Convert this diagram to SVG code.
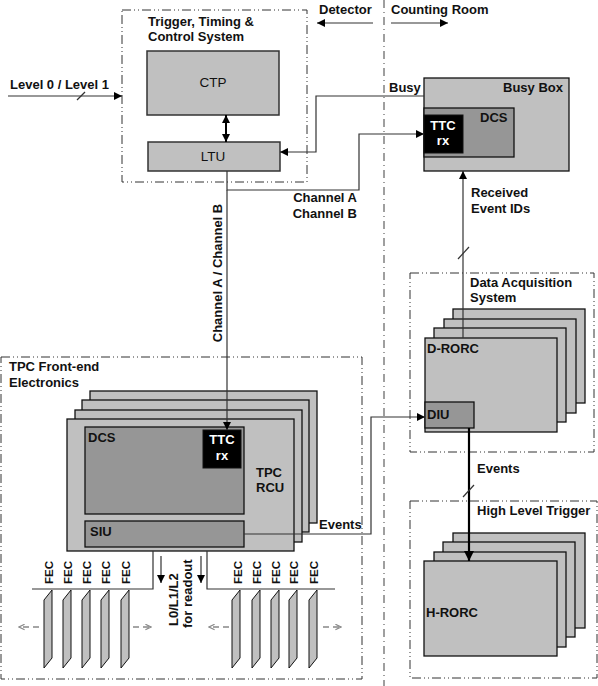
<svg xmlns="http://www.w3.org/2000/svg" width="598" height="686" viewBox="0 0 598 686">
<defs>
<style>
text{font-family:"Liberation Sans",Arial,sans-serif;fill:#111}
.b{font-weight:bold;font-size:13px}
.n{font-size:13.5px}
.w{fill:#fff;font-weight:bold;font-size:13px}
.grp{fill:none;stroke:#333;stroke-width:1;stroke-dasharray:9 3 1 3 1 3}
.card{fill:#c0c0c0;stroke:#111;stroke-width:1.3}
.dark{fill:#969696;stroke:#111;stroke-width:1.3}
.blk{fill:#000;stroke:#111;stroke-width:1}
.ln{fill:none;stroke:#333;stroke-width:1.2}
.dsh{fill:none;stroke:#888;stroke-width:1.5;stroke-dasharray:6 4}
.fec{fill:#c0c0c0;stroke:#111;stroke-width:1}
</style>
<marker id="ah" viewBox="0 0 10 10" refX="10" refY="5" markerWidth="10" markerHeight="8" markerUnits="userSpaceOnUse" orient="auto-start-reverse"><path d="M0,0 L10,5 L0,10 z" fill="#000"/></marker>
<marker id="ahb" viewBox="0 0 10 10" refX="10" refY="5" markerWidth="13" markerHeight="10" markerUnits="userSpaceOnUse" orient="auto"><path d="M0,0 L10,5 L0,10 z" fill="#000"/></marker>
<marker id="oh" viewBox="0 0 10 10" refX="9" refY="5" markerWidth="7" markerHeight="7" markerUnits="userSpaceOnUse" orient="auto"><path d="M1,1 L9,5 L1,9" fill="none" stroke="#888" stroke-width="1.6"/></marker>
</defs>

<!-- divider -->
<line x1="384" y1="0" x2="384" y2="686" stroke="#808080" stroke-width="1.5" stroke-dasharray="8 4 1 4"/>
<text class="b" x="319" y="14">Detector</text>
<text class="b" x="391" y="14">Counting Room</text>

<!-- group boxes -->
<g id="ttc-system">
<rect class="grp" x="122" y="10" width="185" height="172"/>
<text class="b" x="148" y="26">Trigger, Timing &amp;</text>
<text class="b" x="148" y="41">Control System</text>
</g>
<g id="tpc-fee">
<rect class="grp" x="1" y="357" width="361" height="322"/>
<text class="b" x="9" y="371">TPC Front-end</text>
<text class="b" x="9" y="387">Electronics</text>
</g>
<g id="daq">
<rect class="grp" x="410" y="273" width="184" height="179"/>
<text class="b" x="470" y="287">Data Acquisition</text>
<text class="b" x="470" y="302">System</text>
</g>
<g id="hlt">
<rect class="grp" x="410" y="501" width="187" height="177"/>
<text class="b" x="477" y="515">High Level Trigger</text>
</g>

<!-- nodes -->
<g id="ctp">
<rect x="147" y="51" width="132" height="64" fill="#c0c0c0" stroke="#333" stroke-width="1.5"/>
<text class="n" x="213" y="87" text-anchor="middle">CTP</text>
</g>
<g id="ltu">
<rect x="148" y="142" width="132" height="29" fill="#c0c0c0" stroke="#333" stroke-width="1.5"/>
<text class="n" x="213" y="161" text-anchor="middle">LTU</text>
</g>
<g id="busy-box">
<rect class="card" x="424" y="78" width="145" height="93"/>
<text class="b" x="563" y="92" text-anchor="end">Busy Box</text>
<rect class="dark" x="424" y="108" width="90" height="49"/>
<text class="b" x="480" y="122">DCS</text>
<rect class="blk" x="424" y="115" width="39" height="38"/>
<text class="w" x="443" y="130" text-anchor="middle">TTC</text>
<text class="w" x="443" y="145" text-anchor="middle">rx</text>
</g>
<g id="d-rorc">
<rect class="card" x="453" y="309" width="132" height="94"/>
<rect class="card" x="444" y="319" width="132" height="94"/>
<rect class="card" x="434" y="328" width="132" height="94"/>
<rect class="card" x="425" y="338" width="132" height="94"/>
<text class="b" x="427" y="353">D-RORC</text>
<rect class="dark" x="425" y="402" width="49" height="26"/>
<text class="b" x="427" y="419">DIU</text>
</g>
<g id="h-rorc">
<rect class="card" x="453" y="533" width="132" height="95"/>
<rect class="card" x="443" y="542" width="132" height="95"/>
<rect class="card" x="434" y="552" width="132" height="95"/>
<rect class="card" x="424" y="561" width="133" height="95"/>
<text class="b" x="426" y="617">H-RORC</text>
</g>
<g id="tpc-rcu">
<rect class="card" x="90" y="391" width="227" height="132"/>
<rect class="card" x="82" y="400" width="227" height="132"/>
<rect class="card" x="75" y="410" width="227" height="132"/>
<rect class="card" x="67" y="419" width="227" height="132"/>
<rect class="dark" x="85" y="427" width="159" height="87"/>
<text class="b" x="88" y="442">DCS</text>
<rect class="blk" x="203" y="430" width="38" height="38"/>
<text class="w" x="222" y="444" text-anchor="middle">TTC</text>
<text class="w" x="222" y="460" text-anchor="middle">rx</text>
<text class="b" x="256" y="477">TPC</text>
<text class="b" x="256" y="492">RCU</text>
<rect class="dark" x="85" y="521" width="159" height="26"/>
<text class="b" x="90" y="536">SIU</text>
</g>
<g id="fec-left">
<polygon class="fec" points="44,600 52,590 52,658 44,668"/>
<polygon class="fec" points="63,600 71,590 71,658 63,668"/>
<polygon class="fec" points="82,600 90,590 90,658 82,668"/>
<polygon class="fec" points="101,600 109,590 109,658 101,668"/>
<polygon class="fec" points="121,600 129,590 129,658 121,668"/>
<text class="b" style="font-size:11.5px" transform="translate(53,584) rotate(-90)">FEC</text>
<text class="b" style="font-size:11.5px" transform="translate(72,584) rotate(-90)">FEC</text>
<text class="b" style="font-size:11.5px" transform="translate(91,584) rotate(-90)">FEC</text>
<text class="b" style="font-size:11.5px" transform="translate(110,584) rotate(-90)">FEC</text>
<text class="b" style="font-size:11.5px" transform="translate(130,584) rotate(-90)">FEC</text>
</g>
<g id="fec-right">
<polygon class="fec" points="232,600 240,590 240,658 232,668"/>
<polygon class="fec" points="252,600 260,590 260,658 252,668"/>
<polygon class="fec" points="271,600 279,590 279,658 271,668"/>
<polygon class="fec" points="289,600 297,590 297,658 289,668"/>
<polygon class="fec" points="309,600 317,590 317,658 309,668"/>
<text class="b" style="font-size:11.5px" transform="translate(242,584) rotate(-90)">FEC</text>
<text class="b" style="font-size:11.5px" transform="translate(261,584) rotate(-90)">FEC</text>
<text class="b" style="font-size:11.5px" transform="translate(280,584) rotate(-90)">FEC</text>
<text class="b" style="font-size:11.5px" transform="translate(298,584) rotate(-90)">FEC</text>
<text class="b" style="font-size:11.5px" transform="translate(318,584) rotate(-90)">FEC</text>
</g>

<!-- connectors -->
<g id="connectors">
<line class="ln" x1="373" y1="23" x2="317" y2="23" marker-end="url(#ah)"/>
<line class="ln" x1="391" y1="23" x2="448" y2="23" marker-end="url(#ah)"/>
<line class="ln" x1="8" y1="96" x2="122" y2="96" marker-end="url(#ah)"/>
<line class="ln" x1="77" y1="100" x2="85" y2="92"/>
<text class="b" x="10" y="89">Level 0 / Level 1</text>
<line x1="226" y1="115" x2="226" y2="142" stroke="#000" stroke-width="2" marker-start="url(#ah)" marker-end="url(#ah)"/>
<polyline class="ln" points="424,96 316,96 316,152 280,152" marker-end="url(#ah)"/>
<text class="b" x="389" y="92">Busy</text>
<polyline class="ln" points="227,171 227,190 359,190 359,134 424,134" marker-end="url(#ah)"/>
<text class="b" x="357" y="202" text-anchor="end">Channel A</text>
<text class="b" x="357" y="218" text-anchor="end">Channel B</text>
<line class="ln" x1="227" y1="190" x2="227" y2="430" marker-end="url(#ah)"/>
<text class="b" transform="translate(222,273) rotate(-90)" text-anchor="middle">Channel A / Channel B</text>
<line class="ln" x1="463" y1="338" x2="463" y2="171" marker-end="url(#ah)"/>
<line class="ln" x1="458" y1="259" x2="469" y2="247"/>
<text class="b" x="471" y="197">Received</text>
<text class="b" x="471" y="213">Event IDs</text>
<polyline class="ln" points="244,534 371,534 371,417 425,417" marker-end="url(#ah)"/>
<text class="b" x="319" y="529">Events</text>
<line x1="469" y1="428" x2="469" y2="561" stroke="#000" stroke-width="2.2" marker-end="url(#ahb)"/>
<line class="ln" x1="463" y1="497" x2="474" y2="485"/>
<text class="b" x="477" y="473">Events</text>
<polyline class="ln" points="153,551 153,589 32,589"/>
<polyline class="ln" points="207,551 207,589 335,589"/>
<line class="ln" x1="161" y1="556" x2="161" y2="583" marker-end="url(#ah)"/>
<line class="ln" x1="201" y1="556" x2="201" y2="583" marker-end="url(#ah)"/>
<text class="b" transform="translate(178,626) rotate(-90)">L0/L1/L2</text>
<text class="b" transform="translate(192,628) rotate(-90)">for readout</text>
<line class="dsh" x1="39" y1="627" x2="19" y2="627" marker-end="url(#oh)"/>
<line class="dsh" x1="133" y1="627" x2="151" y2="627" marker-end="url(#oh)"/>
<line class="dsh" x1="229" y1="627" x2="209" y2="627" marker-end="url(#oh)"/>
<line class="dsh" x1="323" y1="627" x2="341" y2="627" marker-end="url(#oh)"/>
</g>
</svg>
